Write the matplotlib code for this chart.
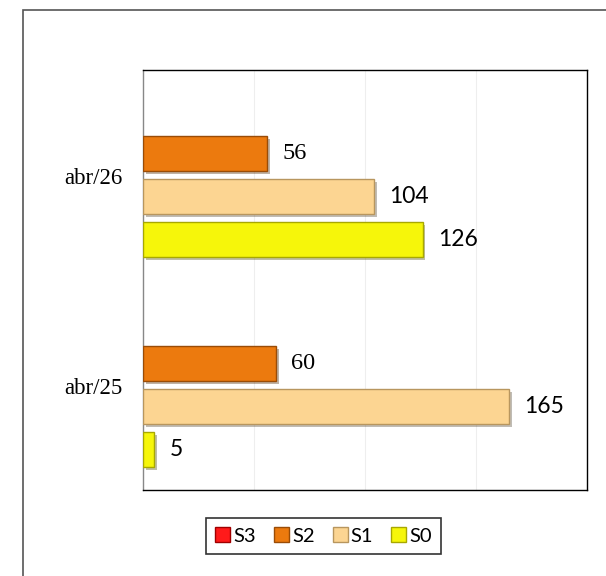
import numpy as np
import matplotlib.pyplot as plt
import matplotlib.patheffects as pe
from matplotlib.patches import Rectangle, Patch

# data
categories = ['abr/25', 'abr/26']
series = ['S3', 'S2', 'S1', 'S0']
s3 = [0, 0]
s2 = [60, 56]
s1 = [165, 104]
s0 = [5, 126]
values = {'S3': s3, 'S2': s2, 'S1': s1, 'S0': s0}

colors = {'S3': '#ff1a1a', 'S2': '#ec7a0e', 'S1': '#fcd592', 'S0': '#f6f60a'}
edges = {'S3': '#a00000', 'S2': '#9a4c06', 'S1': '#b8965e', 'S0': '#a8a800'}
offsets = {'S3': 1.5, 'S2': 0.5, 'S1': -0.5, 'S0': -1.5}
label_font = {'S3': 'Liberation Serif', 'S2': 'Liberation Serif',
              'S1': 'Lato', 'S0': 'Lato'}
label_size = {'S3': 17.5, 'S2': 17.5, 'S1': 16.5, 'S0': 16.5}

fig = plt.figure(figsize=(6.06, 5.76), dpi=100)
ax = fig.add_axes([143 / 606, 1 - 490 / 576, 444 / 606, 420 / 576])

# outer chart border
fig.patches.append(Rectangle((23 / 606, -0.1), 1.2, 1 - 10 / 576 + 0.1,
                             transform=fig.transFigure, fill=False,
                             edgecolor='#555555', linewidth=1.2))

y = np.arange(len(categories))
step = 0.205
h = 0.168

for s in series:
    if s == 'S3':
        # all zero, nothing visible in the chart
        continue
    bars = ax.barh(y + offsets[s] * step, values[s], height=h,
                   color=colors[s], edgecolor=edges[s], linewidth=1.0, zorder=3)
    for b in bars:
        b.set_path_effects([pe.SimplePatchShadow(offset=(2, -2), alpha=0.35),
                            pe.Normal()])
    for yy, v in zip(y, values[s]):
        ax.annotate(str(v), (v, yy + offsets[s] * step), xytext=(11, 0),
                    textcoords='offset points', ha='left', va='center',
                    fontsize=label_size[s], family=label_font[s], color='black')

ax.set_xlim(0, 200)
ax.set_ylim(-0.5, 1.5)
ax.set_xticks([50, 100, 150])
ax.xaxis.grid(True, color='#eeeeee', linewidth=0.8, zorder=0)
ax.tick_params(axis='x', length=0, labelbottom=False)
ax.set_yticks(y - 0.015)
ax.set_yticklabels(categories, family='Liberation Serif', fontsize=16.5)
ax.tick_params(axis='y', length=0, pad=15)
for t in ax.get_yticklabels():
    t.set_verticalalignment('center')
for sp in ax.spines.values():
    sp.set_color('black')
    sp.set_linewidth(1.0)
ax.spines['left'].set_color('#888888')

handles = [Patch(facecolor=colors[s], edgecolor=edges[s], label=s) for s in series]
leg = fig.legend(handles=handles, loc='center', bbox_to_anchor=(323.5 / 606, 1 - 536 / 576),
                 ncol=4, frameon=True, fancybox=False, handlelength=0.75, handleheight=0.75,
                 handletextpad=0.15, columnspacing=0.9, prop={'family': 'Lato', 'size': 14.5},
                 borderpad=0.45)
leg.get_frame().set_edgecolor('black')
leg.get_frame().set_linewidth(1.2)

fig.savefig('out.png', dpi=100)
